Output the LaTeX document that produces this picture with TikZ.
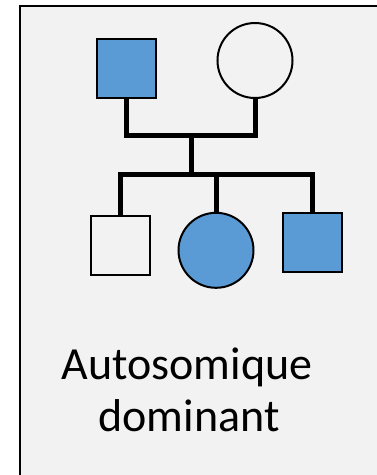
\documentclass[tikz,border=0pt]{standalone}
\usepackage{fontspec}
\setmainfont{Carlito}
\definecolor{affected}{HTML}{5B9BD5}
\definecolor{panel}{HTML}{F2F2F2}
\begin{document}
\begin{tikzpicture}[x=1pt,y=-1pt,
  person/.style={draw=black,line width=2pt,inner sep=0pt},
  male/.style={person,rectangle,minimum size=59pt},
  female/.style={person,circle,minimum size=75pt},
  aff/.style={fill=affected},
  unaff/.style={fill=panel},
  link/.style={line width=5pt,draw=black},
  label/.style={font=\fontsize{46}{54}\selectfont,anchor=base,inner sep=0pt}]
\useasboundingbox (0,0) rectangle (377,475);
\fill[white] (0,0) rectangle (377,475);
\fill[panel] (19.5,5.5) rectangle (377,475);
\draw[line width=2pt] (19.5,475) -- (19.5,5.5) -- (377,5.5);
% parents
\node[male,aff] (father) at (126.5,68) {};
\node[female,unaff] (mother) at (255,60.5) {};
% children
\node[male,unaff] (c1) at (120.5,245.3) {};
\node[female,aff] (c2) at (216,250.3) {};
\node[male,aff] (c3) at (312,242.7) {};
\coordinate (mt) at (191.5,135);
\coordinate (sib) at (216,174);
\draw[link] (father.south) |- (mt) -| (mother.south);
\draw[link] (mt) -- (mt |- sib);
\draw[link] (c1.north) |- (sib) -| (c3.north);
\draw[link] (c2.north) -- (c2 |- sib);
% text
\node[label] (t1) at (187,379.3) {Autosomique};
\node[label] (t2) at (189,431) {dominant};
\end{tikzpicture}
\end{document}
